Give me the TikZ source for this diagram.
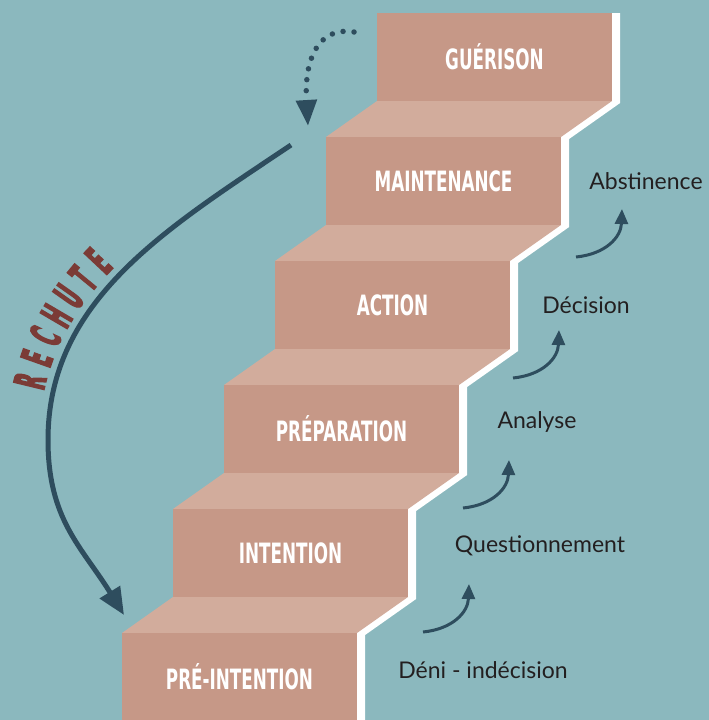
\documentclass[tikz,border=0pt]{standalone}
\usepackage{fontspec}
\setmainfont{Lato}
\newfontfamily\stepfont[FakeStretch=0.6]{DejaVu Sans}
\newfontfamily\fallfont[FakeStretch=0.4,FakeBold=3]{DejaVu Sans}
\usepackage{xcolor}
\definecolor{bg}{HTML}{8BB8BE}
\definecolor{face}{HTML}{C69887}
\definecolor{tread}{HTML}{D2AC9C}
\definecolor{slate}{HTML}{2E4D5E}
\definecolor{relapse}{HTML}{7B3B36}
\definecolor{ink}{HTML}{231F20}
\usetikzlibrary{calc,positioning,arrows.meta}

\tikzset{
  steplabel/.style={text=white, inner sep=0pt, font=\stepfont\bfseries\fontsize{28}{28}\selectfont},
  phase/.style={text=ink, inner sep=0pt, font=\fontsize{23}{23}\selectfont},
  climb/.style={draw=slate, line width=3pt, -{Triangle[length=15pt,width=13pt]}},
  fallletter/.style={text=relapse, inner sep=0pt, sloped, above=9pt, font=\fallfont\bfseries\fontsize{43}{43}\selectfont},
}

\begin{document}
\begin{tikzpicture}[x=1pt,y=-1pt]
  \fill[bg] (0,0) rectangle (709,720);
  \useasboundingbox (0,0) rectangle (709,720);

  % White edge along the stairs
  \draw[white, line width=8pt, xshift=4pt]
    (612,13) -- (612,101) -- (561,137) -- (561,225) -- (510,261) -- (510,349)
    -- (459,385) -- (459,473) -- (408,509) -- (408,597) -- (357,633) -- (357,720);

  % Treads
  \foreach \i in {0,...,4} {
    \fill[tread] (122+51*\i, 633-124*\i) -- ++(235,0) -- ++(51,-36) -- ++(-235,0) -- cycle;
  }
  % Step faces with labels
  \foreach \i/\name in {0/PRÉ-INTENTION, 1/INTENTION, 2/PRÉPARATION, 3/ACTION, 4/MAINTENANCE, 5/GUÉRISON} {
    \fill[face] (122+51*\i, 633-124*\i) rectangle ++(235,88);
    \node[steplabel] (step\i) at (239.5+51*\i, 677-124*\i) {\name};
  }

  % Phases on the right
  \node[phase] (deni) at (483,670) {Déni - indécision};
  \node[phase] (quest) at (540,546) {Questionnement};
  \node[phase] (analyse) at (537,422) {Analyse};
  \node[phase] (decision) at (586,305) {Décision};
  \node[phase] (abst) at (646,181) {Abstinence};

  % Small arrows going up
  \foreach \k/\sx/\sy in {0/423/632, 1/463/508, 2/513/378, 3/576/257} {
    \coordinate (cl\k) at (\sx,\sy);
    \coordinate (ct\k) at (\sx+46,\sy-48);
    \draw[climb] (cl\k) .. controls +(30,-3) and +(-1,28) .. (ct\k);
  }

  % Dotted loop at the top
  \coordinate (loopstart) at (354,32);
  \coordinate (looptip) at (308,126);
  \draw[slate, line width=5.5pt, line cap=round, dash pattern=on 0pt off 11pt,
    -{Triangle[length=26pt,width=20pt]}]
    (loopstart) .. controls (318,26) and (304,60) .. (looptip);

  % Relapse arrow
  \coordinate (fallstart) at (291,145);
  \coordinate (fallmid) at (48,440);
  \coordinate (falltip) at (124,615);
  \draw[slate, line width=5pt, -{Triangle[length=27pt,width=23pt]}]
    (fallstart) .. controls (166,229) and (48,300) .. (fallmid)
    .. controls (48,520) and (82,547) .. (falltip);
  \path (fallstart) .. controls (166,229) and (48,300) .. (fallmid)
    foreach \l/\p [count=\k] in {R/0.865, E/0.808, C/0.751, H/0.694, U/0.637, T/0.58, E/0.523} {
      node[fallletter, pos=\p] (fall\k) {\l}
    };
\end{tikzpicture}
\end{document}
